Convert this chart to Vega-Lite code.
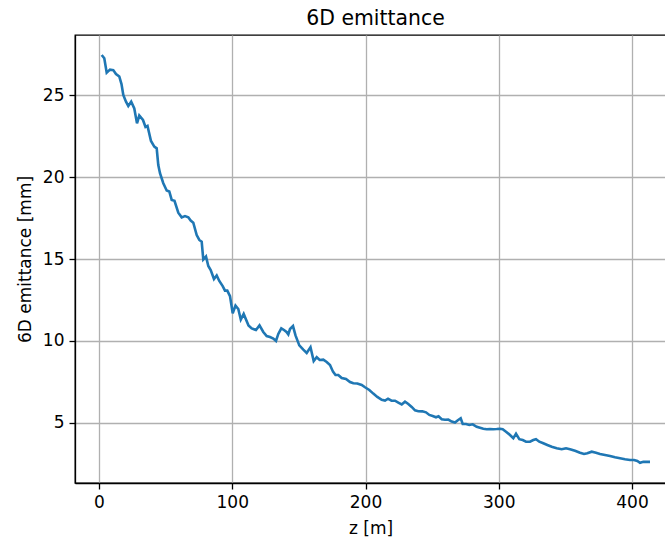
{
  "$schema": "https://vega.github.io/schema/vega-lite/v6.json",
  "autosize": "none",
  "padding": {"left": 75, "top": 35, "right": 0, "bottom": 55},
  "width": 591,
  "height": 448,
  "background": "white",
  "title": {"text": "6D emittance", "font": "DejaVu Sans", "fontSize": 20.4, "fontWeight": "normal", "color": "black", "anchor": "middle", "offset": 6, "dx": 5},
  "data": {"values": [
    {"z": 2.03, "e": 27.44}, {"z": 3.98, "e": 27.24}, {"z": 5.78, "e": 26.36}, {"z": 8.26, "e": 26.55},
    {"z": 10.73, "e": 26.52}, {"z": 12.76, "e": 26.28}, {"z": 15.23, "e": 26.13}, {"z": 16.89, "e": 25.67},
    {"z": 18.24, "e": 25.0}, {"z": 20.26, "e": 24.59}, {"z": 21.99, "e": 24.33}, {"z": 24.17, "e": 24.59},
    {"z": 26.49, "e": 24.18}, {"z": 28.52, "e": 23.27}, {"z": 30.24, "e": 23.75}, {"z": 33.02, "e": 23.48},
    {"z": 34.9, "e": 23.05}, {"z": 36.4, "e": 23.11}, {"z": 39.02, "e": 22.2}, {"z": 41.5, "e": 21.85},
    {"z": 43.3, "e": 21.75}, {"z": 44.5, "e": 20.73}, {"z": 45.78, "e": 20.23}, {"z": 48.26, "e": 19.62},
    {"z": 50.81, "e": 19.18}, {"z": 52.76, "e": 19.12}, {"z": 54.56, "e": 18.6}, {"z": 56.66, "e": 18.55},
    {"z": 59.51, "e": 17.82}, {"z": 62.06, "e": 17.54}, {"z": 64.54, "e": 17.62}, {"z": 67.02, "e": 17.54},
    {"z": 68.82, "e": 17.34}, {"z": 70.77, "e": 17.21}, {"z": 73.32, "e": 16.46}, {"z": 75.27, "e": 16.16},
    {"z": 77.07, "e": 16.06}, {"z": 78.27, "e": 14.97}, {"z": 80.3, "e": 15.15}, {"z": 82.03, "e": 14.57},
    {"z": 83.83, "e": 14.33}, {"z": 86.3, "e": 13.78}, {"z": 88.33, "e": 13.99}, {"z": 90.28, "e": 13.66},
    {"z": 92.83, "e": 13.35}, {"z": 94.56, "e": 13.07}, {"z": 96.29, "e": 13.07}, {"z": 98.31, "e": 12.74},
    {"z": 100.34, "e": 11.69}, {"z": 102.44, "e": 12.16}, {"z": 104.54, "e": 11.95}, {"z": 106.42, "e": 11.31},
    {"z": 108.59, "e": 11.65}, {"z": 112.2, "e": 10.95}, {"z": 114.6, "e": 10.77}, {"z": 117.82, "e": 10.67},
    {"z": 120.45, "e": 10.95}, {"z": 123.3, "e": 10.55}, {"z": 125.85, "e": 10.3}, {"z": 128.33, "e": 10.24},
    {"z": 130.81, "e": 10.15}, {"z": 132.83, "e": 10.0}, {"z": 134.56, "e": 10.43}, {"z": 136.81, "e": 10.77},
    {"z": 138.84, "e": 10.67}, {"z": 140.71, "e": 10.55}, {"z": 142.06, "e": 10.4}, {"z": 143.34, "e": 10.73},
    {"z": 145.59, "e": 10.91}, {"z": 147.47, "e": 10.34}, {"z": 150.32, "e": 9.73}, {"z": 153.32, "e": 9.47},
    {"z": 155.87, "e": 9.27}, {"z": 158.72, "e": 9.62}, {"z": 161.13, "e": 8.78}, {"z": 163.38, "e": 9.01},
    {"z": 165.63, "e": 8.84}, {"z": 168.33, "e": 8.86}, {"z": 170.88, "e": 8.72}, {"z": 173.36, "e": 8.54},
    {"z": 175.61, "e": 8.13}, {"z": 177.49, "e": 7.93}, {"z": 179.59, "e": 7.93}, {"z": 182.14, "e": 7.74},
    {"z": 185.37, "e": 7.68}, {"z": 188.37, "e": 7.5}, {"z": 190.85, "e": 7.42}, {"z": 193.85, "e": 7.41},
    {"z": 197.15, "e": 7.32}, {"z": 199.62, "e": 7.18}, {"z": 202.85, "e": 7.01}, {"z": 205.85, "e": 6.79},
    {"z": 208.86, "e": 6.59}, {"z": 212.16, "e": 6.41}, {"z": 214.63, "e": 6.37}, {"z": 216.89, "e": 6.48},
    {"z": 219.51, "e": 6.36}, {"z": 222.14, "e": 6.36}, {"z": 224.62, "e": 6.24}, {"z": 227.17, "e": 6.13},
    {"z": 229.64, "e": 6.3}, {"z": 232.12, "e": 6.16}, {"z": 234.67, "e": 5.98}, {"z": 237.15, "e": 5.77},
    {"z": 239.62, "e": 5.72}, {"z": 242.63, "e": 5.71}, {"z": 245.4, "e": 5.65}, {"z": 247.88, "e": 5.49},
    {"z": 250.43, "e": 5.43}, {"z": 252.91, "e": 5.35}, {"z": 254.78, "e": 5.41}, {"z": 257.19, "e": 5.23},
    {"z": 259.66, "e": 5.2}, {"z": 262.14, "e": 5.21}, {"z": 264.69, "e": 5.09}, {"z": 267.17, "e": 5.03},
    {"z": 269.04, "e": 5.15}, {"z": 271.44, "e": 5.29}, {"z": 272.95, "e": 4.94}, {"z": 275.42, "e": 4.94},
    {"z": 277.9, "e": 4.88}, {"z": 280.45, "e": 4.92}, {"z": 283.45, "e": 4.77}, {"z": 285.93, "e": 4.71},
    {"z": 288.41, "e": 4.65}, {"z": 290.96, "e": 4.62}, {"z": 293.43, "e": 4.63}, {"z": 295.91, "e": 4.62},
    {"z": 298.46, "e": 4.63}, {"z": 300.94, "e": 4.65}, {"z": 302.96, "e": 4.62}, {"z": 305.44, "e": 4.47},
    {"z": 308.44, "e": 4.27}, {"z": 310.92, "e": 4.07}, {"z": 312.95, "e": 4.34}, {"z": 315.42, "e": 4.01},
    {"z": 317.97, "e": 3.96}, {"z": 320.45, "e": 3.86}, {"z": 323.45, "e": 3.86}, {"z": 325.93, "e": 3.96},
    {"z": 327.95, "e": 4.01}, {"z": 330.43, "e": 3.86}, {"z": 333.43, "e": 3.76}, {"z": 336.44, "e": 3.66},
    {"z": 339.74, "e": 3.55}, {"z": 343.49, "e": 3.46}, {"z": 347.24, "e": 3.4}, {"z": 350.47, "e": 3.46},
    {"z": 353.47, "e": 3.4}, {"z": 357.22, "e": 3.31}, {"z": 360.98, "e": 3.19}, {"z": 363.98, "e": 3.11},
    {"z": 366.45, "e": 3.15}, {"z": 369.76, "e": 3.25}, {"z": 372.98, "e": 3.19}, {"z": 375.98, "e": 3.11},
    {"z": 379.74, "e": 3.05}, {"z": 383.49, "e": 2.99}, {"z": 387.24, "e": 2.91}, {"z": 391.0, "e": 2.85},
    {"z": 394.75, "e": 2.79}, {"z": 398.5, "e": 2.74}, {"z": 401.5, "e": 2.74}, {"z": 403.98, "e": 2.68},
    {"z": 406.0, "e": 2.57}, {"z": 408.48, "e": 2.63}, {"z": 411.03, "e": 2.63}, {"z": 413.51, "e": 2.63}
  ]},
  "mark": {"type": "line", "color": "#1f77b4", "strokeWidth": 2.6, "clip": true},
  "encoding": {
    "x": {
      "field": "z", "type": "quantitative",
      "scale": {"domain": [-18.0, 425.5], "nice": false, "zero": false},
      "axis": {"title": "z [m]", "values": [0, 100, 200, 300, 400], "format": "d", "titlePadding": 10}
    },
    "y": {
      "field": "e", "type": "quantitative",
      "scale": {"domain": [1.34, 28.66], "nice": false, "zero": false},
      "axis": {"title": "6D emittance [mm]", "values": [5, 10, 15, 20, 25], "format": "d", "titlePadding": 8}
    }
  },
  "config": {
    "font": "DejaVu Sans",
    "view": {"stroke": "black", "strokeWidth": 1.3},
    "axis": {
      "labelFont": "DejaVu Sans", "labelFontSize": 17, "labelColor": "black",
      "titleFont": "DejaVu Sans", "titleFontSize": 17, "titleFontWeight": "normal", "titleColor": "black",
      "domainColor": "black", "domainWidth": 1.3,
      "tickColor": "black", "tickWidth": 1.3, "tickSize": 6, "labelPadding": 5,
      "grid": true, "gridColor": "#b0b0b0", "gridWidth": 1.3
    }
  }
}
